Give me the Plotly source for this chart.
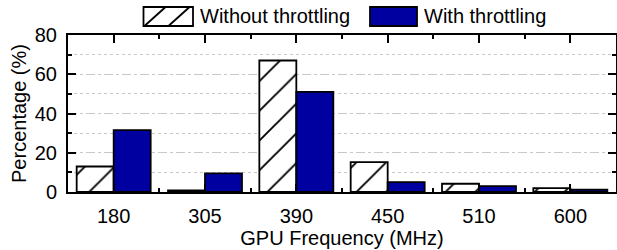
import plotly.graph_objects as go

categories = ["180", "305", "390", "450", "510", "600"]
without_throttling = [13.0, 0.8, 67.0, 15.2, 4.2, 2.0]
with_throttling = [31.5, 9.5, 51.0, 5.0, 3.0, 1.2]
y_ticks = [0, 20, 40, 60, 80]

positions = list(range(len(categories)))
FONT = "Liberation Sans, Arial, sans-serif"
BLUE = "#0000A0"

fig = go.Figure()
fig.add_trace(go.Bar(
    x=positions, y=without_throttling, name="Without throttling",
    marker=dict(color="white", line=dict(color="black", width=1.8),
                pattern=dict(shape="/", fgcolor="black", bgcolor="white", fgopacity=1,
                             size=21, solidity=0.09)),
    showlegend=False,
))
fig.add_trace(go.Bar(
    x=positions, y=with_throttling, name="With throttling",
    marker=dict(color=BLUE, line=dict(color="black", width=1.8)),
    showlegend=False,
))

W, H = 617, 250
L, R, T, B = 68, 1, 35, 58
pw = W - L - R
ph = H - T - B

def px(x):
    return (x - L) / pw

def py(y):
    return (H - B - y) / ph

shapes = []
shapes.append(dict(type="rect", xref="paper", yref="paper", x0=px(143.5), x1=px(193), y0=py(26), y1=py(7),
                   line=dict(color="black", width=1.8), fillcolor="white"))
for a, b in [(145, 165), (169, 189)]:
    shapes.append(dict(type="line", xref="paper", yref="paper", x0=px(a), x1=px(b), y0=py(25.5), y1=py(7.5),
                       line=dict(color="black", width=1.8)))
shapes.append(dict(type="rect", xref="paper", yref="paper", x0=px(370), x1=px(417), y0=py(26), y1=py(7),
                   line=dict(color="black", width=1.8), fillcolor=BLUE))

annotations = [
    dict(text="Without throttling", xref="paper", yref="paper", x=px(198), y=py(16.5),
         xanchor="left", yanchor="middle", showarrow=False, font=dict(size=20, family=FONT, color="black")),
    dict(text="With throttling", xref="paper", yref="paper", x=px(422), y=py(16.5),
         xanchor="left", yanchor="middle", showarrow=False, font=dict(size=20, family=FONT, color="black")),
]

fig.update_layout(
    width=W, height=H,
    margin=dict(l=L, r=R, t=T, b=B, pad=0, autoexpand=False),
    paper_bgcolor="white", plot_bgcolor="white",
    barmode="group", bargap=0.19, bargroupgap=0,
    font=dict(family=FONT, size=20, color="black"),
    shapes=shapes, annotations=annotations,
    showlegend=False,
)
fig.update_xaxes(
    range=[-0.5, len(categories) - 0.5],
    tickmode="array", tickvals=positions, ticktext=categories,
    showline=True, linecolor="black", linewidth=2, mirror="ticks",
    ticks="inside", ticklen=8, tickwidth=1.5, tickcolor="black",
    ticklabelstandoff=5,
    showgrid=False, zeroline=False,
    minor=dict(tickmode="linear", tick0=0.5, dtick=1, ticks="inside", ticklen=4, tickwidth=1.5,
               tickcolor="black", showgrid=False),
    title=dict(text="GPU Frequency (MHz)", font=dict(size=20, family=FONT), standoff=2),
    tickfont=dict(size=20, family=FONT),
)
fig.update_yaxes(
    range=[0, 80], tickmode="array", tickvals=y_ticks,
    showline=True, linecolor="black", linewidth=2, mirror="ticks",
    ticks="inside", ticklen=8, tickwidth=1.5, tickcolor="black",
    ticklabelstandoff=5,
    showgrid=True, gridcolor="#C8C8C8", gridwidth=1.2, griddash="dash",
    zeroline=False,
    minor=dict(tickmode="linear", tick0=0, dtick=10, ticks="inside", ticklen=4, tickwidth=1.5,
               tickcolor="black", showgrid=True, gridcolor="#C8C8C8", gridwidth=1, griddash="dot"),
    title=dict(text="Percentage (%)", font=dict(size=20, family=FONT), standoff=3),
    tickfont=dict(size=20, family=FONT),
)

fig.write_html("out.html", config={"displayModeBar": False},
               post_script="document.body.style.margin='0';")
